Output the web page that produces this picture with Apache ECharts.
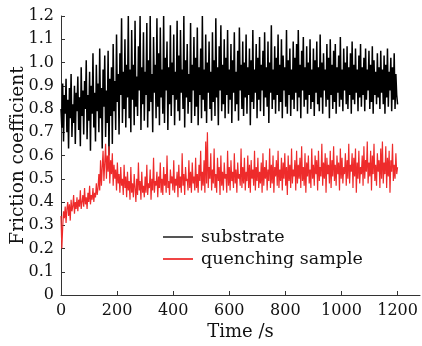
<!DOCTYPE html>
<html><head><meta charset="utf-8">
<script src="https://cdn.jsdelivr.net/npm/echarts@6/dist/echarts.min.js"></script>
<style>html,body{margin:0;padding:0;background:#fff}#c{width:422px;height:346px}</style>
</head><body><div id="c"></div>
<script>
const timeStep = 3; // seconds between samples
const xTicks = [0, 200, 400, 600, 800, 1000, 1200];
const seriesNames = ['substrate', 'quenching sample'];
const substrate = [
0.80,0.72,0.91,0.66,0.86,0.78,0.93,0.70,0.84,0.63,0.89,0.76,0.95,0.68,0.82,0.74,0.90,0.65,0.87,0.79,
0.94,0.71,0.85,0.64,0.98,0.77,0.88,0.69,0.92,0.80,1.01,0.67,0.86,0.75,0.96,0.62,0.90,0.78,1.04,0.72,
0.87,0.66,0.99,0.79,0.91,0.70,1.06,0.76,0.89,0.63,0.97,0.81,1.03,0.68,0.88,0.74,1.05,0.60,0.93,0.77,
0.98,0.65,1.08,0.79,0.92,0.71,1.12,0.83,0.95,0.69,1.04,0.86,1.19,0.74,0.96,0.80,1.10,0.72,0.99,0.85,
1.20,0.76,0.97,0.70,1.14,0.84,0.99,0.73,1.18,0.81,0.94,0.77,1.07,0.88,1.20,0.71,0.98,0.82,1.13,0.75,
0.96,0.86,1.17,0.72,1.01,0.79,1.20,0.83,0.95,0.70,1.11,0.87,0.99,0.76,1.19,0.81,1.04,0.73,1.15,0.85,
0.97,0.78,1.20,0.74,1.02,0.88,1.09,0.71,0.98,0.82,1.16,0.77,1.00,0.86,1.12,0.73,0.96,0.84,1.18,0.79,
1.03,0.75,1.14,0.87,0.97,0.80,1.20,0.72,1.01,0.85,1.08,0.78,0.95,0.83,1.17,0.74,0.99,0.88,1.11,0.77,
1.02,0.81,1.15,0.73,0.98,0.86,1.06,0.76,1.20,0.84,0.97,0.79,1.12,0.74,1.00,0.87,1.09,0.80,0.96,0.75,
1.13,0.83,1.01,0.77,1.19,0.85,0.98,0.73,1.07,0.88,1.16,0.79,0.99,0.82,1.10,0.76,1.02,0.86,1.14,0.78,
0.97,0.84,1.08,0.74,1.01,0.87,1.13,0.79,0.96,0.82,1.05,0.75,1.15,0.88,0.99,0.80,1.09,0.77,1.00,0.85,
1.12,0.78,0.98,0.86,1.06,0.73,1.01,0.83,1.14,0.80,0.97,0.87,1.08,0.76,1.02,0.84,1.11,0.79,0.99,0.88,
1.05,0.77,1.13,0.85,0.98,0.81,1.09,0.74,1.00,0.87,1.16,0.80,0.97,0.84,1.07,0.78,1.02,0.86,1.12,0.79,
0.99,0.83,1.10,0.76,1.03,0.88,0.98,0.81,1.14,0.78,1.01,0.86,1.06,0.77,0.97,0.84,1.09,0.80,1.02,0.87,
1.08,0.79,1.14,0.85,0.99,0.76,1.05,0.88,1.11,0.81,0.98,0.84,1.07,0.78,1.00,0.86,1.10,0.80,0.97,0.83,
1.06,0.77,1.01,0.87,1.09,0.82,0.98,0.79,1.12,0.85,1.00,0.78,1.04,0.88,0.97,0.81,1.08,0.84,1.02,0.76,
1.10,0.86,0.99,0.80,1.05,0.83,1.08,0.78,0.98,0.87,1.03,0.81,1.11,0.84,0.97,0.79,1.06,0.88,1.00,0.82,
1.07,0.80,0.98,0.86,1.04,0.78,1.09,0.84,0.99,0.82,1.06,0.87,0.97,0.79,1.03,0.85,1.08,0.81,0.98,0.86,
1.02,0.79,1.06,0.84,0.97,0.88,1.05,0.80,0.99,0.83,1.07,0.78,1.01,0.86,0.96,0.82,1.04,0.85,0.98,0.80,
1.05,0.87,0.97,0.82,1.03,0.78,0.99,0.85,1.06,0.81,0.96,0.88,1.02,0.79,0.98,0.84,1.04,0.80,0.95,0.86,
0.82];
const quenching = [
0.34,0.20,0.29,0.36,0.33,0.38,0.31,0.37,0.40,0.34,0.39,0.32,0.41,0.36,0.38,0.43,0.35,0.40,0.37,0.42,
0.36,0.41,0.38,0.45,0.37,0.40,0.43,0.38,0.46,0.39,0.42,0.37,0.44,0.40,0.47,0.39,0.43,0.41,0.46,0.40,
0.44,0.42,0.48,0.43,0.46,0.52,0.45,0.58,0.47,0.55,0.62,0.49,0.57,0.65,0.50,0.60,0.53,0.64,0.48,0.58,
0.52,0.61,0.47,0.56,0.50,0.54,0.45,0.57,0.48,0.52,0.44,0.55,0.47,0.50,0.43,0.56,0.46,0.51,0.42,0.53,
0.45,0.49,0.41,0.55,0.44,0.48,0.42,0.52,0.46,0.40,0.50,0.43,0.57,0.45,0.49,0.41,0.53,0.44,0.47,0.42,
0.51,0.44,0.56,0.43,0.48,0.46,0.54,0.41,0.50,0.45,0.59,0.44,0.49,0.47,0.53,0.42,0.51,0.46,0.57,0.44,
0.50,0.43,0.55,0.47,0.52,0.44,0.60,0.46,0.49,0.43,0.54,0.48,0.51,0.45,0.58,0.44,0.50,0.47,0.53,0.42,
0.56,0.46,0.51,0.44,0.61,0.47,0.52,0.43,0.55,0.49,0.50,0.45,0.58,0.46,0.53,0.44,0.57,0.48,0.51,0.45,
0.59,0.46,0.52,0.44,0.56,0.49,0.62,0.45,0.53,0.47,0.58,0.44,0.66,0.48,0.70,0.46,0.55,0.50,0.61,0.45,
0.54,0.48,0.63,0.46,0.52,0.44,0.59,0.49,0.55,0.43,0.60,0.47,0.53,0.45,0.57,0.50,0.52,0.44,0.62,0.47,
0.55,0.45,0.58,0.49,0.53,0.46,0.61,0.48,0.54,0.44,0.57,0.50,0.52,0.47,0.63,0.46,0.55,0.48,0.59,0.45,
0.53,0.49,0.60,0.46,0.56,0.44,0.58,0.50,0.54,0.47,0.62,0.45,0.55,0.49,0.59,0.46,0.53,0.48,0.57,0.44,
0.61,0.47,0.55,0.50,0.58,0.45,0.54,0.49,0.63,0.46,0.56,0.48,0.60,0.44,0.55,0.51,0.58,0.47,0.62,0.46,
0.54,0.49,0.59,0.45,0.57,0.50,0.61,0.47,0.55,0.43,0.60,0.49,0.56,0.46,0.63,0.48,0.54,0.51,0.58,0.45,
0.62,0.48,0.56,0.50,0.59,0.46,0.64,0.49,0.55,0.47,0.61,0.44,0.57,0.51,0.60,0.48,0.54,0.46,0.63,0.50,
0.56,0.47,0.60,0.52,0.58,0.45,0.62,0.49,0.55,0.51,0.65,0.47,0.57,0.50,0.61,0.44,0.59,0.52,0.56,0.48,
0.62,0.46,0.58,0.51,0.64,0.49,0.56,0.47,0.60,0.52,0.57,0.45,0.63,0.50,0.59,0.48,0.55,0.52,0.61,0.47,
0.58,0.50,0.65,0.48,0.56,0.53,0.61,0.46,0.59,0.51,0.63,0.44,0.57,0.50,0.62,0.48,0.55,0.52,0.60,0.47,
0.64,0.50,0.58,0.53,0.66,0.48,0.57,0.51,0.62,0.45,0.60,0.52,0.65,0.49,0.56,0.47,0.61,0.53,0.58,0.46,
0.63,0.50,0.66,0.48,0.57,0.52,0.64,0.46,0.59,0.51,0.62,0.44,0.58,0.53,0.65,0.49,0.56,0.50,0.61,0.52,
0.55];

const toPairs = arr => arr.map((v, i) => [i * timeStep, v]);
const font = 'DejaVu Serif';
const chart = echarts.init(document.getElementById('c'), null, {renderer: 'canvas'});
chart.setOption({
  animation: false,
  backgroundColor: '#fff',
  grid: {left: 61, top: 16, right: 2, bottom: 51, containLabel: false, outerBoundsMode: 'none'},
  legend: {
    orient: 'vertical', left: 163, top: 228, padding: 0,
    itemWidth: 30, itemHeight: 2, itemGap: 4,
    textStyle: {fontFamily: font, fontSize: 17.5, color: '#111', padding: [0, 0, 0, 3]},
    data: [
      {name: seriesNames[0], icon: 'rect', itemStyle: {color: '#555'}},
      {name: seriesNames[1], icon: 'rect', itemStyle: {color: '#f04545'}}
    ]
  },
  xAxis: {
    type: 'value', min: 0, max: 1280, interval: 200,
    name: 'Time /s', nameLocation: 'middle', nameGap: 28, nameMoveOverlap: false,
    nameTextStyle: {fontFamily: font, fontSize: 18, color: '#111'},
    axisLine: {lineStyle: {color: '#333', width: 1}},
    axisTick: {inside: true, length: 4, lineStyle: {color: '#333'}, customValues: xTicks},
    axisLabel: {fontFamily: font, fontSize: 16, color: '#111', margin: 8, customValues: xTicks,
      formatter: v => String(v)},
    splitLine: {show: false}
  },
  yAxis: {
    type: 'value', min: 0, max: 1.2, interval: 0.1,
    name: 'Friction coefficient', nameLocation: 'middle', nameGap: 33, nameMoveOverlap: false,
    nameTextStyle: {fontFamily: font, fontSize: 18.5, color: '#111'},
    axisLine: {show: true, lineStyle: {color: '#333', width: 1}},
    axisTick: {show: true, inside: true, length: 4, lineStyle: {color: '#333'}},
    axisLabel: {fontFamily: font, fontSize: 16, color: '#111', margin: 7,
      formatter: v => (Math.round(v * 10) / 10) === 0 ? '0' : (Math.round(v * 10) / 10).toFixed(1)},
    splitLine: {show: false}
  },
  series: [
    {name: seriesNames[0], type: 'line', data: toPairs(substrate), symbol: 'none',
     color: '#000', lineStyle: {width: 1.5, color: '#000'}, z: 2},
    {name: seriesNames[1], type: 'line', data: toPairs(quenching), symbol: 'none',
     color: '#ee2b2b', lineStyle: {width: 1.2, color: '#ee2b2b'}, z: 3}
  ]
});
</script></body></html>
